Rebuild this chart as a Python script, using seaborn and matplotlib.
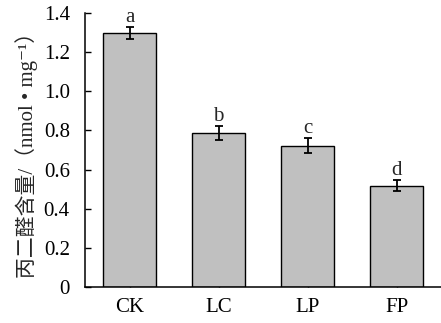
import matplotlib
matplotlib.use("Agg")
import matplotlib.pyplot as plt
import seaborn as sns
import pandas as pd
from matplotlib.ticker import FuncFormatter

groups = ["CK", "LC", "LP", "FP"]
mda = [1.297, 0.788, 0.722, 0.518]
err = [0.030, 0.035, 0.037, 0.027]
letters = ["a", "b", "c", "d"]

sns.set_style("ticks")
plt.rcParams["font.family"] = ["Liberation Serif", "Noto Sans CJK SC", "DejaVu Serif"]
plt.rcParams["axes.unicode_minus"] = False

df = pd.DataFrame({"group": groups, "mda": mda})

fig = plt.figure(figsize=(4.41, 3.23), dpi=100)
ax = fig.add_axes([0.193, 0.111, 0.807, 0.849])

sns.barplot(data=df, x="group", y="mda", color="#c0c0c0", edgecolor="black",
            linewidth=1.0, width=0.6, saturation=1, errorbar=None, ax=ax)
ax.errorbar(range(len(groups)), mda, yerr=err, fmt="none", ecolor="black",
            elinewidth=1.3, capsize=3, capthick=1.3)

for i, (v, e, t) in enumerate(zip(mda, err, letters)):
    ax.text(i, v + e + 0.002, t, ha="center", va="bottom", fontsize=15)

ax.set_xlim(-0.5, 3.5)
ax.set_ylim(0, 1.4)
ax.set_yticks([0, 0.2, 0.4, 0.6, 0.8, 1.0, 1.2, 1.4])
ax.yaxis.set_major_formatter(FuncFormatter(lambda v, p: "0" if v == 0 else f"{v:.1f}"))
ax.set_xlabel("")
ax.set_ylabel("丙二醛含量/（nmol • mg⁻¹）", fontsize=15, labelpad=4)

for s in ("top", "right"):
    ax.spines[s].set_visible(False)
for s in ("left", "bottom"):
    ax.spines[s].set_linewidth(1.1)
    ax.spines[s].set_color("black")

ax.tick_params(axis="both", direction="in", length=4, width=1.0, colors="black",
               labelsize=15)
ax.tick_params(axis="y", pad=11)
ax.tick_params(axis="x", pad=8)

fig.savefig("out.png", dpi=100)
